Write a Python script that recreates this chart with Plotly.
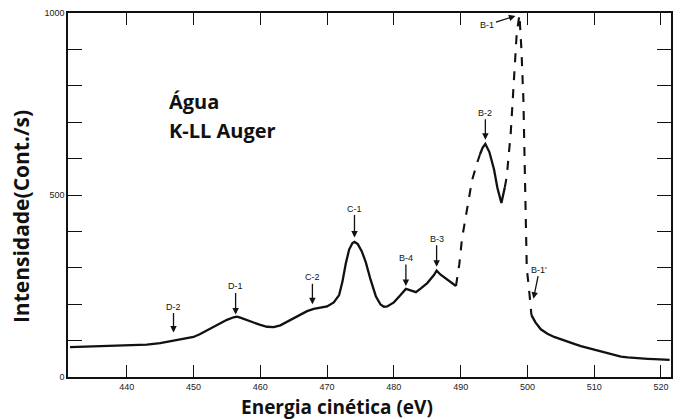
import plotly.graph_objects as go

# Kinetic energy (eV) and intensity (counts/s)
energia = [431.5, 433, 435, 437, 439, 441, 443, 445, 447, 449, 450, 451, 452, 453, 454, 455, 456, 456.5,
           457, 458, 459, 460, 461, 462, 463, 464, 465, 466, 467, 468, 469, 470, 471, 471.8, 472.3, 472.8,
           473.3, 473.8, 474.1, 474.6, 475.2, 475.8, 476.5, 477.3, 478, 478.5, 479, 480, 481, 481.8, 482.5,
           483.3, 484, 485, 486, 486.4, 487, 488, 488.8, 489.3]
intens = [82, 83, 84, 84, 85, 87, 89, 93, 100, 106, 110, 118, 128, 138, 148, 157, 164, 166,
          163, 156, 149, 143, 138, 137, 142, 152, 162, 172, 181, 187, 190, 194, 205, 225, 262, 312,
          350, 368, 371, 365, 345, 315, 268, 222, 199, 193, 194, 205, 225, 242, 238,
          233, 243, 258, 280, 292, 281, 268, 256, 250]

energia_sub = [489.3, 489.8, 490.2, 491, 491.7, 492.5, 492.9]
intens_sub = [250, 310, 380, 470, 540, 590, 612]

energia_b2 = [492.9, 493.3, 493.7, 494.3, 495, 495.5, 496.1, 496.6]
intens_b2 = [612, 630, 640, 618, 570, 520, 478, 520]

energia_b1 = [496.6, 496.9, 497.5, 498, 498.4, 498.8, 499.1, 499.4, 499.7, 499.9, 500.3, 500.6]
intens_b1 = [520, 550, 670, 820, 945, 995, 900, 760, 480, 300, 230, 170]

energia_cauda = [500.6, 501.2, 502, 503, 504, 505, 506, 507, 508, 509, 510, 511, 512, 513, 514, 515, 516,
                 517, 518, 519, 520, 521.3]
intens_cauda = [170, 150, 131, 119, 110, 103, 97, 91, 85, 80, 75, 70, 65, 60, 56, 54, 52,
                51, 50, 49, 48, 47]

# Peak labels: (label, energy, intensity at arrow tip, label offset x, offset y in px)
picos = [("D-2", 447.0, 122, 0, -26),
         ("D-1", 456.3, 172, 0, -28),
         ("C-2", 467.8, 200, 0, -27),
         ("C-1", 474.1, 383, 0, -29),
         ("B-4", 481.8, 250, 0, -28),
         ("B-3", 486.4, 303, 0, -28),
         ("B-2", 493.7, 652, 0, -27),
         ("B-1", 498.2, 992, -28, 9),
         ("B-1'", 500.9, 215, 6, -29)]

x_ticks = [440, 450, 460, 470, 480, 490, 500, 510, 520]
y_ticks = [0, 100, 200, 300, 400, 500, 600, 700, 800, 900, 1000]
y_ticktext = ["0", "", "", "", "", "500", "", "", "", "", "1000"]

fig = go.Figure()
solida = dict(color="#111111", width=2.3)
tracejada = dict(color="#111111", width=2.1, dash="dash")
fig.add_trace(go.Scatter(x=energia, y=intens, mode="lines", line=solida, showlegend=False))
fig.add_trace(go.Scatter(x=energia_sub, y=intens_sub, mode="lines", line=tracejada, showlegend=False))
fig.add_trace(go.Scatter(x=energia_b2, y=intens_b2, mode="lines", line=solida, showlegend=False))
fig.add_trace(go.Scatter(x=energia_b1, y=intens_b1, mode="lines", line=tracejada, showlegend=False))
fig.add_trace(go.Scatter(x=energia_cauda, y=intens_cauda, mode="lines", line=solida, showlegend=False))

anns = []
for lab, xe, yi, ax, ay in picos:
    anns.append(dict(x=xe, y=yi, xref="x", yref="y", text=lab, showarrow=True,
                     arrowhead=2, arrowsize=1, arrowwidth=1.3, arrowcolor="#111111",
                     ax=ax, ay=ay, font=dict(family="Liberation Sans, Arial", size=9, color="#111111")))

anns.append(dict(x=0.165, y=0.757, xref="paper", yref="paper", xanchor="left", yanchor="middle",
                 text="<b>Água</b>", showarrow=False,
                 font=dict(family="Open Sans", size=20, color="#111111")))
anns.append(dict(x=0.165, y=0.677, xref="paper", yref="paper", xanchor="left", yanchor="middle",
                 text="<b>K-LL Auger</b>", showarrow=False,
                 font=dict(family="Open Sans", size=20, color="#111111")))
anns.append(dict(x=-0.078, y=0.442, xref="paper", yref="paper", xanchor="center", yanchor="middle",
                 text="<b>Intensidade(Cont./s)</b>", textangle=-90, showarrow=False,
                 font=dict(family="Open Sans", size=21, color="#111111")))
anns.append(dict(x=0.446, y=-0.082, xref="paper", yref="paper", xanchor="center", yanchor="middle",
                 text="<b>Energia cinética (eV)</b>", showarrow=False, borderpad=0,
                 font=dict(family="Open Sans", size=19, color="#111111")))

fig.update_layout(
    width=680, height=419,
    margin=dict(l=68, r=7, t=13, b=42),
    paper_bgcolor="white", plot_bgcolor="white",
    annotations=anns,
    xaxis=dict(range=[431.2, 521.5], tickvals=x_ticks, ticks="inside", ticklen=12,
               tickwidth=1.3, tickcolor="#111111", showline=True, linecolor="#111111",
               linewidth=1.5, mirror="ticks", showgrid=False, zeroline=False,
               ticklabelstandoff=0,
               tickfont=dict(family="Liberation Sans, Arial", size=9, color="#222222")),
    yaxis=dict(range=[0, 1000], tickvals=y_ticks, ticktext=y_ticktext, ticks="inside",
               ticklen=14, tickwidth=1.3, tickcolor="#111111", showline=True,
               linecolor="#111111", linewidth=1.5, mirror="ticks", showgrid=False,
               zeroline=False,
               tickfont=dict(family="Liberation Sans, Arial", size=9, color="#222222")),
)

fig.write_html("out.html")
